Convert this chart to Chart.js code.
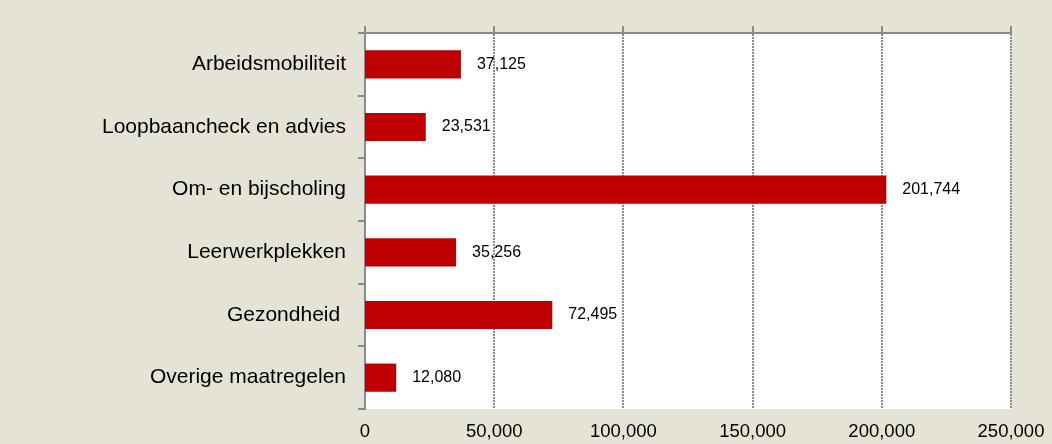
<!DOCTYPE html>
<html>
<head>
<meta charset="utf-8">
<script src="https://cdn.jsdelivr.net/npm/chart.js@4"></script>
<style>
  html, body { margin: 0; padding: 0; background: #E5E3D6; }
  #wrap { width: 1052px; height: 444px; position: relative; }
</style>
</head>
<body>
<div id="wrap"><canvas id="c" width="1052" height="444"></canvas></div>
<script>
const categories = ['Arbeidsmobiliteit', 'Loopbaancheck en advies', 'Om- en bijscholing', 'Leerwerkplekken', 'Gezondheid ', 'Overige maatregelen'];
const values = [37125, 23531, 201744, 35256, 72495, 12080];
const xTicks = [0, 50000, 100000, 150000, 200000, 250000];

const FONT = "'Liberation Sans', Arial, sans-serif";
const fmt = v => Number(v).toLocaleString('en-US');

const plotBg = {
  id: 'plotBg',
  beforeDraw(chart) {
    const a = chart.chartArea, ctx = chart.ctx;
    ctx.save();
    ctx.fillStyle = '#FFFFFF';
    ctx.fillRect(a.left, a.top, a.right - a.left, a.bottom - a.top);
    ctx.restore();
  }
};

const dataLabels = {
  id: 'dataLabels',
  afterDatasetsDraw(chart) {
    const ctx = chart.ctx;
    const meta = chart.getDatasetMeta(0);
    ctx.save();
    ctx.font = '16px ' + FONT;
    ctx.fillStyle = '#000000';
    ctx.textAlign = 'left';
    ctx.textBaseline = 'middle';
    meta.data.forEach((bar, i) => {
      ctx.fillText(fmt(values[i]), bar.x + 16, bar.y);
    });
    ctx.restore();
  }
};

new Chart(document.getElementById('c'), {
  type: 'bar',
  data: {
    labels: categories,
    datasets: [{
      data: values,
      backgroundColor: '#C00000',
      borderWidth: 0,
      barPercentage: 0.45,
      categoryPercentage: 1,
      xAxisID: 'x'
    }]
  },
  options: {
    indexAxis: 'y',
    responsive: false,
    animation: false,
    layout: { padding: { left: 0, right: 41, top: 0, bottom: 0 } },
    plugins: { legend: { display: false }, tooltip: { enabled: false } },
    scales: {
      xTop: {
        type: 'linear',
        position: 'top',
        min: 0, max: 250000,
        afterBuildTicks(scale) { scale.ticks = xTicks.map(v => ({ value: v })); },
        afterFit(scale) { scale.height = 33; scale.paddingLeft = 0; scale.paddingRight = 0; },
        ticks: { display: false },
        grid: {
          color: '#8C8C8C',
          lineWidth: 2,
          drawTicks: true,
          tickLength: 7,
          tickColor: '#8A8A8A',
          tickWidth: 2
        },
        border: { display: true, color: '#8A8A8A', width: 2, dash: [2, 1] }
      },
      x: {
        type: 'linear',
        position: 'bottom',
        min: 0, max: 250000,
        afterBuildTicks(scale) { scale.ticks = xTicks.map(v => ({ value: v })); },
        afterFit(scale) { scale.height = 35; scale.paddingLeft = 0; scale.paddingRight = 0; },
        grid: { display: false, drawTicks: false },
        border: { display: false },
        ticks: {
          color: '#000000',
          font: { family: FONT, size: 18.5 },
          padding: 12,
          maxRotation: 0,
          autoSkip: false,
          callback: v => fmt(v)
        }
      },
      y: {
        type: 'category',
        position: 'left',
        afterFit(scale) { scale.width = 365; },
        grid: {
          offset: true,
          drawOnChartArea: false,
          drawTicks: true,
          tickLength: 7,
          color: '#8A8A8A',
          lineWidth: 2
        },
        border: { display: true, color: '#8A8A8A', width: 2 },
        ticks: {
          color: '#000000',
          font: { family: FONT, size: 21 },
          padding: 12,
          autoSkip: false
        }
      }
    }
  },
  plugins: [plotBg, dataLabels]
});
</script>
</body>
</html>
